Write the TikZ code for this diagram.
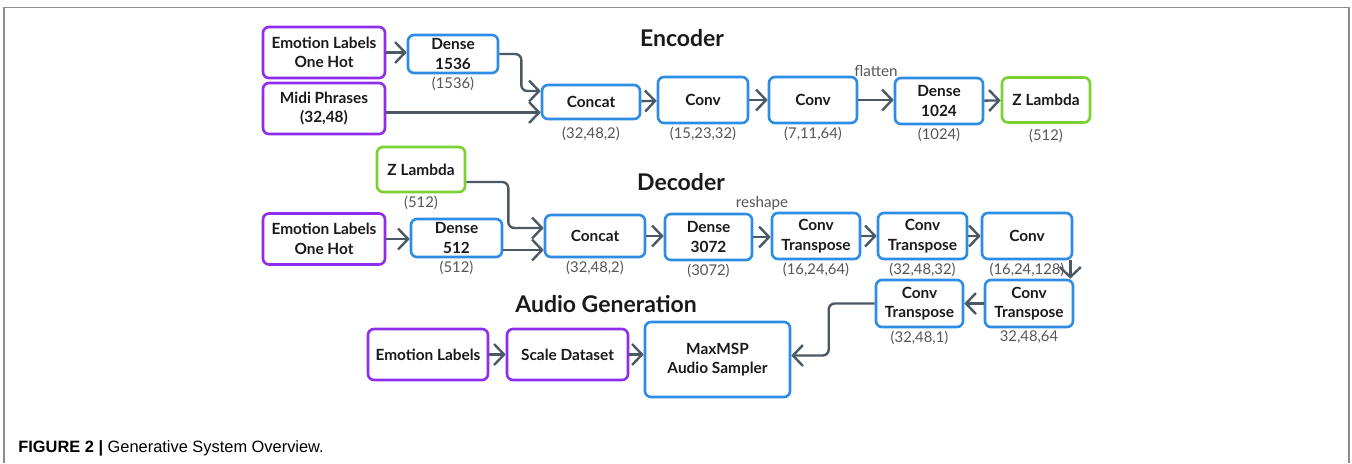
\documentclass[tikz,border=0pt]{standalone}
\usepackage{fontspec}
\setmainfont{Lato}
\newfontfamily\capfont{Liberation Sans}
\usetikzlibrary{arrows.meta, calc}
\definecolor{emopurple}{HTML}{8E2DEB}
\definecolor{layerblue}{HTML}{2C8CE6}
\definecolor{latentgreen}{HTML}{7BD12F}
\definecolor{wireslate}{HTML}{4A5965}
\definecolor{dimgreytext}{HTML}{555555}
\definecolor{textdark}{HTML}{1A1A1A}
\definecolor{framegrey}{HTML}{8C8C8C}

\begin{document}
\begin{tikzpicture}[x=0.5pt, y=-0.5pt,
    box/.style={rectangle, rounded corners=3pt, line width=1.3pt, fill=white, align=center,
      inner sep=1pt, text=textdark, font=\fontsize{7.7}{9.8}\selectfont\bfseries},
    inbox/.style={box, draw=emopurple, minimum width=61pt, minimum height=25.5pt},
    layer/.style={box, draw=layerblue, minimum width=45pt, minimum height=23pt},
    zbox/.style={box, draw=latentgreen, minimum width=44pt, minimum height=22.5pt},
    dims/.style={font=\fontsize{7.4}{8}\selectfont, text=dimgreytext, inner sep=1pt},
    conn/.style={-{Straight Barb[length=5pt, width=10.5pt]}, line width=1.2pt, wireslate, rounded corners=3pt},
    title/.style={font=\fontsize{11.5}{13}\selectfont\bfseries, text=textdark},
    note/.style={font=\fontsize{7.6}{8}\selectfont, text=dimgreytext, inner sep=0pt}]

    \useasboundingbox (0,0) rectangle (1352,463);
    \draw[framegrey, line width=0.9pt] (4,463) -- (4,7.5) -- (1349,7.5) -- (1349,463);

    % Encoder
    \node (enctitle) [title] at (682,38) {Encoder};
    \node (emo1) [inbox] at (324,52.5) {Emotion Labels\\One Hot};
    \node (midi) [inbox] at (324,108.5) {Midi Phrases\\(32,48)};
    \node (dense1536) [layer, minimum height=19pt, label={[dims]below:(1536)}] at (453,54) {Dense\\1536};
    \node (concat1) [layer, minimum width=49pt, minimum height=17pt,
      label={[dims, label distance=2pt]below:(32,48,2)}] at (591,102) {Concat};
    \node (conv1) [layer, label={[dims]below:(15,23,32)}] at (703,100) {Conv};
    \node (conv2) [layer, minimum width=44pt, label={[dims]below:(7,11,64)}] at (813,100) {Conv};
    \node (dense1024) [layer, minimum width=44pt, label={[dims]below:(1024)}] at (939,101) {Dense\\1024};
    \node (zlam1) [zbox, label={[dims, label distance=1.5pt]below:(512)}] at (1046,100) {Z Lambda};

    \draw[conn] (emo1.east) -- (emo1.east -| dense1536.west);
    \draw[conn] (dense1536.east) -- ++(22,0) |- ($(concat1.west)+(0,-11)$);
    \draw[conn] ($(midi.east)+(0,4)$) -- ($(concat1.west)+(0,10.5)$);
    \draw[conn] (concat1) -- (conv1);
    \draw[conn] (conv1) -- (conv2);
    \draw[conn] (conv2) -- (conv2 -| dense1024.west) node[note, midway, above=11pt] {flatten};
    \draw[conn] (dense1024) -- (zlam1);

    % Decoder
    \node (dectitle) [title] at (681,182) {Decoder};
    \node (zlam2) [zbox, label={[dims]below:(512)}] at (421,169.5) {Z Lambda};
    \node (emo2) [inbox] at (324,239) {Emotion Labels\\One Hot};
    \node (dense512) [layer, minimum width=45.5pt, minimum height=19pt, label={[dims]below:(512)}] at (456.5,238) {Dense\\512};
    \node (concat2) [layer, minimum width=50pt, minimum height=21pt, label={[dims]below:(32,48,2)}] at (595,236) {Concat};
    \node (dense3072) [layer, minimum width=43.5pt, label={[dims]below:(3072)}] at (708.5,237) {Dense\\3072};
    \node (convt1) [layer, minimum width=44pt, label={[dims]below:(16,24,64)}] at (816,236) {Conv\\Transpose};
    \node (convt2) [layer, minimum width=44.5pt, label={[dims]below:(32,48,32)}] at (922.5,236) {Conv\\Transpose};
    \node (conv3) [layer, label={[dims]below:(16,24,128)}] at (1027,236) {Conv};
    \node (convt3) [layer, minimum width=44pt, minimum height=23.5pt, label={[dims]below:32,48,64}] at (1029,303.5) {Conv\\Transpose};
    \node (convt4) [layer, minimum width=43.5pt, minimum height=23.5pt, label={[dims]below:(32,48,1)}] at (919.5,303.5) {Conv\\Transpose};

    \draw[conn] (emo2.east) -- (emo2.east -| dense512.west);
    \draw[conn] ($(zlam2.east)+(0,12.5)$) -- ++(42,0) |- ($(concat2.west)+(0,-8)$);
    \draw[conn] ($(dense512.east)+(0,12)$) -- ($(concat2.west)+(0,14)$);
    \draw[conn] (concat2) -- (concat2 -| dense3072.west);
    \draw[conn] (dense3072) -- (dense3072 -| convt1.west) node[note, midway, above=13pt] {reshape};
    \draw[conn] (convt1) -- (convt2);
    \draw[conn] (convt2) -- (conv3);
    \draw[conn] ([xshift=-1.5pt]conv3.south east) -- ([xshift=-1.5pt]conv3.south east |- convt3.north);
    \draw[conn] (convt3) -- (convt4);

    % Audio generation
    \node (audtitle) [title] at (606,304) {Audio Generation};
    \node (emo3) [inbox, minimum width=60pt] at (428,354.5) {Emotion Labels};
    \node (scale) [inbox, minimum width=60.5pt] at (567.5,354.5) {Scale Dataset};
    \node (maxmsp) [layer, minimum width=72.5pt, minimum height=37.5pt] at (717.5,359.5) {MaxMSP\\Audio Sampler};

    \draw[conn] (emo3) -- (scale);
    \draw[conn] (scale.east) -- (scale.east -| maxmsp.west);
    \draw[conn] (convt4.west) -- ++(-46,0) |- ($(maxmsp.east)+(0,-4)$);

    % caption
    \node (caption) [anchor=west, inner sep=0pt, font=\capfont\fontsize{8.2}{10}\selectfont] at (18,448)
      {\textbf{FIGURE 2 |} Generative System Overview.};
\end{tikzpicture}
\end{document}
